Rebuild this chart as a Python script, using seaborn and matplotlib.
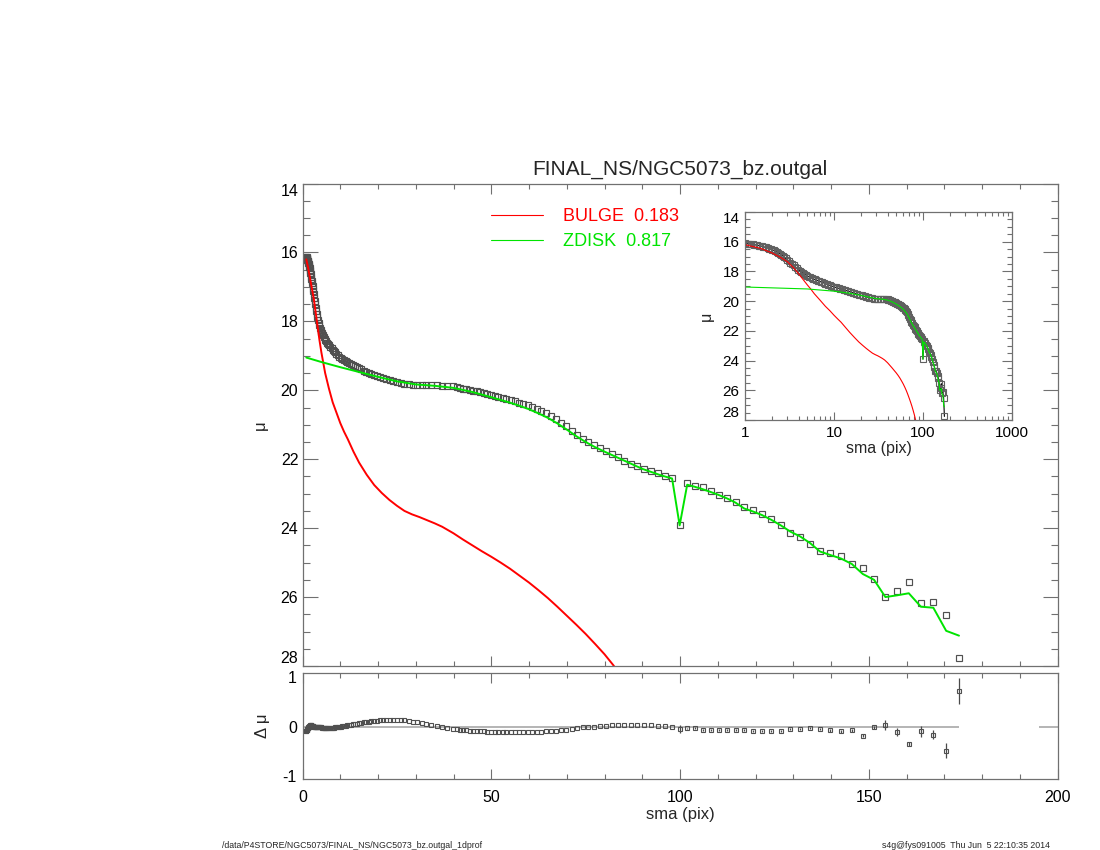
"""
Perfil radial de brillo superficial de NGC5073 con descomposicion bulbo + disco.
"""
import matplotlib
matplotlib.use("Agg")
import matplotlib.pyplot as plt
from matplotlib.lines import Line2D
from matplotlib.ticker import MultipleLocator, LogLocator, NullFormatter
import pandas as pd
import seaborn as sns

# semi-major axis of each fitted ellipse (pix)
sma_inner = [
    1.00, 1.04, 1.08, 1.12, 1.17, 1.22, 1.27, 1.32, 1.37, 1.42,
    1.48, 1.54, 1.60, 1.67, 1.73, 1.80, 1.87, 1.95, 2.03, 2.11,
    2.19, 2.28, 2.37, 2.46, 2.56, 2.67, 2.77, 2.88, 3.00, 3.12,
    3.24, 3.37, 3.51, 3.65, 3.79, 3.95, 4.10, 4.27, 4.44, 4.62,
    4.80, 4.99, 5.19, 5.40, 5.62, 5.84, 6.07, 6.32, 6.57, 6.83,
    7.11, 7.39, 7.69, 8.00, 8.32, 8.65, 9.00, 9.36, 9.73, 10.1,
    10.5, 10.9, 11.4, 11.8, 12.3, 12.8, 13.3, 13.9, 14.4, 15.0,
    15.6, 16.2, 16.9, 17.5, 18.2, 19.0, 19.7, 20.5, 21.3, 22.2,
    23.1, 24.0, 25.0, 26.0, 27.0, 28.1, 29.2, 30.4, 31.6, 32.8,
    34.1, 35.5, 36.9, 38.4, 39.9,
]
sma_mid = [
    40.9, 41.8, 42.6, 43.4, 44.3, 45.2, 46.1, 47.0, 48.0, 48.9,
    49.9, 50.9, 51.9, 53.0, 54.0, 55.1, 56.2, 57.3, 58.5, 59.6,
    60.8, 62.1, 63.3, 64.6, 65.9, 67.2, 68.5, 69.9, 71.3, 72.7,
    74.2, 75.7, 77.2, 78.7, 80.3, 81.9, 83.5, 85.2, 86.9, 88.7,
    90.5, 92.3, 94.1, 96.0, 97.9,
]
sma_outer = [
    99.9, 101.9, 103.9, 106.0, 108.1, 110.3, 112.5, 114.7, 117.0, 119.4,
    121.7, 124.2, 126.7, 129.2, 131.8, 134.4, 137.1, 139.8, 142.6, 145.5,
    148.4, 151.4, 154.4, 157.5, 160.6, 163.8, 167.1, 170.5, 173.9,
]

# observed surface brightness (mag/arcsec^2)
mu_inner = [
    16.12, 16.13, 16.14, 16.15, 16.17, 16.18, 16.20, 16.22, 16.24, 16.26,
    16.28, 16.30, 16.33, 16.36, 16.39, 16.42, 16.46, 16.50, 16.54, 16.59,
    16.64, 16.70, 16.76, 16.82, 16.89, 16.97, 17.05, 17.13, 17.22, 17.31,
    17.40, 17.50, 17.60, 17.70, 17.79, 17.88, 17.96, 18.04, 18.11, 18.18,
    18.24, 18.30, 18.35, 18.40, 18.45, 18.50, 18.54, 18.58, 18.62, 18.66,
    18.70, 18.74, 18.78, 18.82, 18.86, 18.90, 18.94, 18.98, 19.02, 19.05,
    19.08, 19.11, 19.14, 19.17, 19.20, 19.23, 19.26, 19.29, 19.32, 19.36,
    19.39, 19.43, 19.46, 19.49, 19.52, 19.56, 19.59, 19.62, 19.65, 19.68,
    19.71, 19.74, 19.77, 19.79, 19.81, 19.83, 19.84, 19.85, 19.86, 19.86,
    19.86, 19.86, 19.87, 19.88, 19.89,
]
mu_mid = [
    19.91, 19.93, 19.95, 19.97, 19.99, 20.01, 20.03, 20.06, 20.08, 20.11,
    20.13, 20.16, 20.19, 20.22, 20.25, 20.28, 20.32, 20.36, 20.40, 20.44,
    20.49, 20.54, 20.60, 20.67, 20.75, 20.84, 20.94, 21.05, 21.17, 21.30,
    21.42, 21.50, 21.59, 21.68, 21.77, 21.86, 21.95, 22.04, 22.13, 22.21,
    22.28, 22.34, 22.41, 22.48, 22.54,
]
mu_outer = [
    23.90, 22.68, 22.78, 22.82, 22.92, 23.03, 23.14, 23.24, 23.40, 23.48,
    23.60, 23.73, 23.92, 24.13, 24.27, 24.45, 24.67, 24.72, 24.81, 25.03,
    25.17, 25.49, 26.00, 25.82, 25.56, 26.18, 26.13, 26.51, 27.76,
]

# residuals data - model
dmu_inner = [
    -0.09, -0.09, -0.08, -0.08, -0.07, -0.06, -0.06, -0.05, -0.04, -0.04,
    -0.03, -0.02, -0.02, -0.01, 0.00, 0.01, 0.01, 0.02, 0.02, 0.03,
    0.03, 0.03, 0.03, 0.02, 0.02, 0.02, 0.01, 0.01, 0.00, 0.00,
    0.00, -0.01, -0.01, -0.01, -0.01, -0.01, -0.02, -0.02, -0.02, -0.02,
    -0.02, -0.02, -0.03, -0.03, -0.03, -0.03, -0.03, -0.035, -0.035, -0.035,
    -0.035, -0.035, -0.03, -0.03, -0.025, -0.02, -0.015, -0.01, -0.005, 0.00,
    0.005, 0.01, 0.02, 0.025, 0.03, 0.04, 0.045, 0.055, 0.06, 0.07,
    0.08, 0.085, 0.095, 0.10, 0.11, 0.115, 0.12, 0.125, 0.13, 0.135,
    0.137, 0.137, 0.135, 0.132, 0.125, 0.115, 0.10, 0.085, 0.065, 0.045,
    0.025, 0.005, -0.015, -0.035, -0.05,
]
dmu_mid = [
    -0.06, -0.07, -0.075, -0.08, -0.085, -0.09, -0.095, -0.10, -0.10, -0.105,
    -0.105, -0.108, -0.11, -0.11, -0.11, -0.11, -0.11, -0.11, -0.11, -0.11,
    -0.11, -0.105, -0.105, -0.10, -0.10, -0.09, -0.08, -0.07, -0.05, -0.04,
    -0.02, -0.01, 0.00, 0.01, 0.02, 0.025, 0.03, 0.035, 0.035, 0.035,
    0.03, 0.025, 0.015, 0.005, -0.01,
]
dmu_outer = [
    -0.05, -0.04, -0.035, -0.07, -0.07, -0.07, -0.07, -0.07, -0.07, -0.10,
    -0.10, -0.10, -0.10, -0.05, -0.05, -0.035, -0.05, -0.08, -0.10, -0.08,
    -0.19, -0.02, 0.03, -0.12, -0.35, -0.10, -0.17, -0.49, 0.72,
]
dmu_err_outer = [
    0.09, 0.015, 0.015, 0.015, 0.015, 0.015, 0.015, 0.015, 0.015, 0.02,
    0.02, 0.02, 0.02, 0.02, 0.02, 0.02, 0.02, 0.025, 0.025, 0.025,
    0.03, 0.03, 0.10, 0.08, 0.04, 0.11, 0.09, 0.16, 0.27,
]

# model components
bulge_sma = [
    1.0, 1.5, 2.0, 2.5, 3.0, 3.5, 4.0, 4.5, 5.0, 5.5,
    6.0, 7.0, 8.0, 9.0, 10.0, 11.0, 12.0, 13.5, 15.0, 17.0,
    19.0, 21.0, 23.0, 25.0, 27.0, 29.0, 31.0, 33.0, 35.0, 37.0,
    40.0, 42.5, 45.0, 47.5, 50.0, 52.5, 55.0, 57.5, 60.0, 62.5,
    65.0, 67.5, 70.0, 72.5, 75.0, 77.5, 80.0, 82.5,
]
bulge_mu = [
    16.2, 16.45, 16.75, 17.05, 17.35, 17.75, 18.15, 18.55, 18.9, 19.2,
    19.5, 19.95, 20.35, 20.65, 20.95, 21.2, 21.42, 21.78, 22.1, 22.45,
    22.75, 22.98, 23.18, 23.35, 23.5, 23.6, 23.68, 23.77, 23.86, 23.96,
    24.15, 24.33, 24.5, 24.67, 24.83, 25.0, 25.18, 25.38, 25.58, 25.8,
    26.03, 26.28, 26.54, 26.8, 27.07, 27.36, 27.66, 28.0,
]
disk_sma = [
    1.0, 5.0, 10.0, 15.0, 20.0, 25.0, 30.0, 35.0, 40.0, 45.0,
    50.0, 55.0, 57.5, 60.0, 62.5, 65.0, 67.5, 70.0, 72.5, 75.0,
    77.5, 80.0, 85.0, 90.0, 95.0,
    97.9, 99.9, 101.9, 103.9, 106.0, 108.1, 110.3, 112.5, 114.7, 117.0,
    119.4, 121.7, 124.2, 126.7, 129.2, 131.8, 134.4, 137.1, 139.8, 142.6,
    145.5, 148.4, 151.4, 154.4, 157.5, 160.6, 163.8, 167.1, 170.5, 173.9,
]
disk_mu = [
    19.05, 19.18, 19.33, 19.47, 19.61, 19.74, 19.83, 19.87, 19.93, 20.05,
    20.2, 20.36, 20.45, 20.55, 20.67, 20.8, 20.96, 21.14, 21.33, 21.5,
    21.65, 21.78, 22.03, 22.28, 22.47,
    22.56, 23.92, 22.74, 22.8, 22.87, 22.95, 23.04, 23.14, 23.26, 23.43,
    23.52, 23.62, 23.76, 23.92, 24.1, 24.24, 24.43, 24.68, 24.78, 24.88,
    25.04, 25.33, 25.5, 26.0, 25.95, 25.89, 26.28, 26.31, 26.98, 27.12,
]

BULGE_LABEL = "BULGE  0.183"
DISK_LABEL = "ZDISK  0.817"
RED = "#ff0000"
GREEN = "#00e400"
GRAY = "#707070"

perfil = pd.DataFrame({
    "sma": sma_inner + sma_mid + sma_outer,
    "mu": mu_inner + mu_mid + mu_outer,
    "dmu": dmu_inner + dmu_mid + dmu_outer,
})
perfil["err"] = [0.0] * (len(sma_inner) + len(sma_mid)) + dmu_err_outer

sns.set_theme(style="ticks")
plt.rcParams["font.family"] = ["Liberation Sans", "DejaVu Sans"]
plt.rcParams["axes.unicode_minus"] = False


def estilo_ejes(ax, largo_x, largo_y):
    for spine in ax.spines.values():
        spine.set_color(GRAY)
        spine.set_linewidth(0.9)
    ax.tick_params(which="both", direction="in", top=True, right=True,
                   color=GRAY, width=0.8, labelcolor="black")
    ax.tick_params(axis="x", which="major", length=largo_x[0])
    ax.tick_params(axis="x", which="minor", length=largo_x[1])
    ax.tick_params(axis="y", which="major", length=largo_y[0])
    ax.tick_params(axis="y", which="minor", length=largo_y[1])


def etiquetas_mu(ax):
    # like IDL, the end labels are pushed inside the frame
    valores = list(range(14, 29, 2))
    ax.set_yticks(valores, labels=[str(v) for v in valores])
    etiquetas = ax.get_yticklabels()
    etiquetas[0].set_verticalalignment("top")
    etiquetas[-1].set_verticalalignment("bottom")


fig = plt.figure(figsize=(11, 8.5), dpi=100)
ax = fig.add_axes([0.275, 0.2165, 0.6864, 0.5676])
ax_res = fig.add_axes([0.275, 0.0841, 0.6864, 0.1241])
ax_in = fig.add_axes([0.6773, 0.5059, 0.2427, 0.2447])

# main profile
sns.lineplot(data=perfil, x="sma", y="mu", ax=ax, estimator=None, sort=False,
             linestyle="none", marker="s", markersize=3.9, markerfacecolor="none",
             markeredgecolor="#505050", markeredgewidth=0.85, legend=False)
sns.lineplot(x=bulge_sma, y=bulge_mu, ax=ax, estimator=None, sort=False,
             color=RED, linewidth=1.4, legend=False)
sns.lineplot(x=disk_sma, y=disk_mu, ax=ax, estimator=None, sort=False,
             color=GREEN, linewidth=1.4, legend=False)
ax.set_xlim(0, 200)
ax.set_ylim(28, 14)
ax.xaxis.set_major_locator(MultipleLocator(50))
ax.xaxis.set_minor_locator(MultipleLocator(10))
etiquetas_mu(ax)
ax.yaxis.set_minor_locator(MultipleLocator(0.5))
estilo_ejes(ax, (7, 3.5), (10.5, 5))
ax.tick_params(axis="x", labelbottom=False)
ax.tick_params(axis="y", labelsize=11.5, pad=3)
ax.set_xlabel("")
ax.set_ylabel("μ", fontsize=12, labelpad=9)
ax.set_title("FINAL_NS/NGC5073_bz.outgal", fontsize=15, pad=6)

handles = [Line2D([], [], color=RED, lw=0.8), Line2D([], [], color=GREEN, lw=0.8)]
ax.legend(handles, [BULGE_LABEL, DISK_LABEL], loc="upper left",
          bbox_to_anchor=(0.4464, 0.7553), bbox_transform=fig.transFigure,
          frameon=False, fontsize=13, handlelength=2.9, handletextpad=1.1,
          labelspacing=0.45, borderpad=0, borderaxespad=0, labelcolor="linecolor")

# residuals
ax_res.hlines(0, 0, perfil["sma"].max(), color="#a8a8a8", linewidth=1.2, zorder=1)
ax_res.hlines(0, 195, 200, color="#a8a8a8", linewidth=1.2, zorder=1)
ax_res.errorbar(perfil["sma"], perfil["dmu"], yerr=perfil["err"], fmt="none",
                ecolor="#4a4a4a", elinewidth=0.9, capsize=0, zorder=2)
sns.lineplot(data=perfil, x="sma", y="dmu", ax=ax_res, estimator=None, sort=False,
             linestyle="none", marker="s", markersize=3.4, markerfacecolor="none",
             markeredgecolor="#505050", markeredgewidth=0.8, legend=False, zorder=3)
ax_res.set_xlim(0, 200)
ax_res.set_ylim(-1.06, 1.09)
ax_res.xaxis.set_major_locator(MultipleLocator(50))
ax_res.xaxis.set_minor_locator(MultipleLocator(10))
ax_res.set_yticks([-1, 0, 1], labels=["-1", "0", "1"])
estilo_ejes(ax_res, (7, 3.5), (0, 0))
ax_res.tick_params(axis="x", labelsize=11.5, pad=8)
ax_res.tick_params(axis="y", labelsize=11.5, pad=4)
ax_res.set_xlabel("sma (pix)", fontsize=12, labelpad=2)
ax_res.set_ylabel("Δ μ", fontsize=12, labelpad=9)

# log inset
sns.lineplot(data=perfil, x="sma", y="mu", ax=ax_in, estimator=None, sort=False,
             color="black", linewidth=0.8, marker="s", markersize=4.0,
             markerfacecolor="none", markeredgecolor="#606060",
             markeredgewidth=0.8, legend=False)
sns.lineplot(x=bulge_sma, y=bulge_mu, ax=ax_in, estimator=None, sort=False,
             color=RED, linewidth=0.8, legend=False)
sns.lineplot(x=disk_sma, y=disk_mu, ax=ax_in, estimator=None, sort=False,
             color=GREEN, linewidth=0.8, legend=False)
ax_in.set_xscale("log")
ax_in.set_xlim(1, 1000)
ax_in.set_ylim(28, 14)
ax_in.set_xticks([1, 10, 100, 1000], labels=["1", "10", "100", "1000"])
ax_in.xaxis.set_minor_locator(LogLocator(base=10, subs=range(2, 10)))
ax_in.xaxis.set_minor_formatter(NullFormatter())
etiquetas_mu(ax_in)
ax_in.yaxis.set_minor_locator(MultipleLocator(0.5))
estilo_ejes(ax_in, (6, 3), (7, 3.5))
ax_in.tick_params(labelsize=11, pad=4)
ax_in.set_xlabel("sma (pix)", fontsize=11.5, labelpad=1)
ax_in.set_ylabel("μ", fontsize=11.5, labelpad=6)

fig.text(222 / 1100, 1 - 846 / 850, "/data/P4STORE/NGC5073/FINAL_NS/NGC5073_bz.outgal_1dprof",
         fontsize=6.3, ha="left", va="center")
fig.text(1050 / 1100, 1 - 846 / 850, "s4g@fys091005  Thu Jun  5 22:10:35 2014",
         fontsize=6.3, ha="right", va="center")

fig.savefig("out.png", dpi=100)
